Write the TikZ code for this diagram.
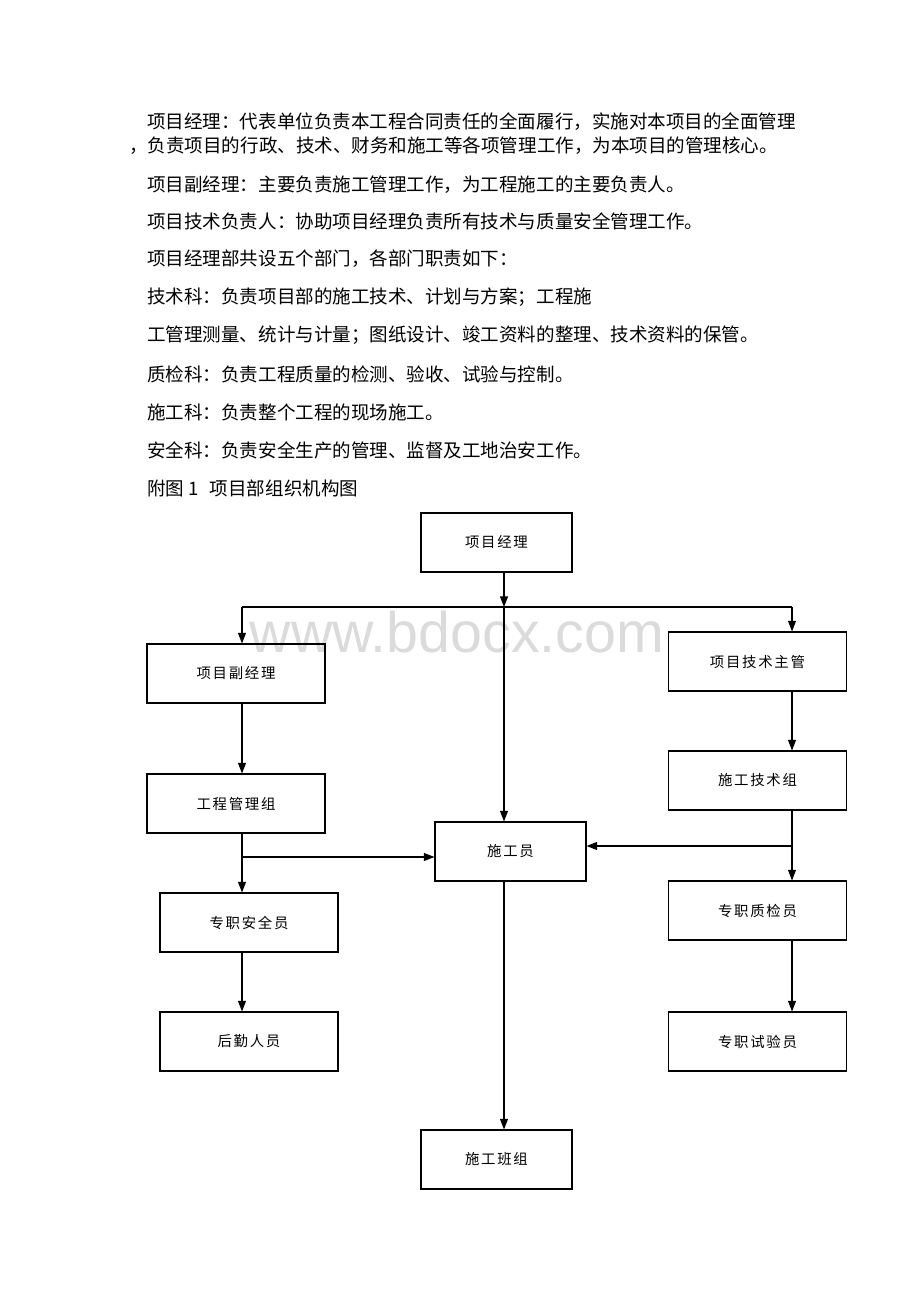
\documentclass[tikz,border=0pt]{standalone}
\usepackage{fontspec}
\usepackage{tikz}
\usetikzlibrary{
    arrows.meta,
    positioning
}
\setmainfont[Kerning=Off]{Noto Sans CJK SC}
\newfontfamily\boxfont[Kerning=Off,LetterSpace=12]{Noto Sans CJK SC}
\newfontfamily\markfont{Liberation Sans}

\tikzset{
    unitbox/.style={
        draw,
        line width=0.8pt,
        inner sep=0pt,
        minimum height=44.25pt,
        font=\boxfont\fontsize{10.8pt}{13pt}\selectfont,
    },
    narrowbox/.style={unitbox, minimum width=113.25pt},
    widebox/.style={unitbox, minimum width=133.5pt},
    link/.style={line width=0.8pt},
    feed/.style={link, -{Triangle[length=8pt,width=6pt]}},
    para/.style={anchor=west, inner sep=0pt, font=\fontsize{13.9pt}{16pt}\selectfont},
}

\begin{document}
\begin{tikzpicture}[x=0.75pt,y=-0.75pt]
    \useasboundingbox (0,0) rectangle (920,1302);

    % text above the chart
    \node[para] (p1) at (147,122) {项目经理：代表单位负责本工程合同责任的全面履行，实施对本项目的全面管理};
    \node[para] (p2) at (129,146) {，负责项目的行政、技术、财务和施工等各项管理工作，为本项目的管理核心。};
    \node[para] (p3) at (147,185) {项目副经理：主要负责施工管理工作，为工程施工的主要负责人。};
    \node[para] (p4) at (147,221) {项目技术负责人：协助项目经理负责所有技术与质量安全管理工作。};
    \node[para] (p5) at (147,259) {项目经理部共设五个部门，各部门职责如下：};
    \node[para] (p6) at (147,297) {技术科：负责项目部的施工技术、计划与方案；工程施};
    \node[para] (p7) at (147,335) {工管理测量、统计与计量；图纸设计、竣工资料的整理、技术资料的保管。};
    \node[para] (p8) at (147,374) {质检科：负责工程质量的检测、验收、试验与控制。};
    \node[para] (p9) at (147,412) {施工科：负责整个工程的现场施工。};
    \node[para] (p10) at (147,450) {安全科：负责安全生产的管理、监督及工地治安工作。};
    \node[para] (caption) at (147,488) {附图 1\hspace{0.6em}项目部组织机构图};

    % watermark
    \node[anchor=base, inner sep=0pt, text=black!14,
          font=\markfont\fontsize{43pt}{44pt}\selectfont] (mark) at (457,652) {www.bdocx.com};

    % boxes
    \node[narrowbox] (pm) at (496.5,542.5) {项目经理};
    \node[widebox] (deputy) at (236,673.5) {项目副经理};
    \node[widebox] (engmgmt) at (236,803.5) {工程管理组};
    \node[widebox] (safety) at (249,922.5) {专职安全员};
    \node[widebox] (logistics) at (249,1041.5) {后勤人员};
    \node[narrowbox] (worker) at (510.5,851.5) {施工员};
    \node[narrowbox] (team) at (496.5,1159.5) {施工班组};
    \node[widebox] (techlead) at (757.5,661.5) {项目技术主管};
    \node[widebox] (techgroup) at (757.5,780.5) {施工技术组};
    \node[widebox] (qc) at (757.5,910.5) {专职质检员};
    \node[widebox] (tester) at (757.5,1041.5) {专职试验员};

    % bus and junctions
    \coordinate (bus) at (504,607);
    \coordinate (busL) at (242,607);
    \coordinate (busR) at (792,607);
    \coordinate (joinL) at (242,857);
    \coordinate (joinR) at (792,846);

    % connectors
    \draw[feed] (pm.south -| bus) -- (bus);
    \draw[link] (busL) -- (busR);
    \draw[feed] (busL) -- (deputy.north -| busL);
    \draw[feed] (busR) -- (techlead.north -| busR);
    \draw[feed] (bus) -- (worker.north -| bus);
    \draw[feed] (deputy.south -| busL) -- (engmgmt.north -| busL);
    \draw[feed] (engmgmt.south -| busL) -- (safety.north -| busL);
    \draw[feed] (joinL) -- (worker.west |- joinL);
    \draw[feed] (safety.south -| busL) -- (logistics.north -| busL);
    \draw[feed] (worker.south -| bus) -- (team.north -| bus);
    \draw[feed] (techlead.south -| busR) -- (techgroup.north -| busR);
    \draw[feed] (techgroup.south -| busR) -- (qc.north -| busR);
    \draw[feed] (joinR) -- (worker.east |- joinR);
    \draw[feed] (qc.south -| busR) -- (tester.north -| busR);
\end{tikzpicture}
\end{document}
